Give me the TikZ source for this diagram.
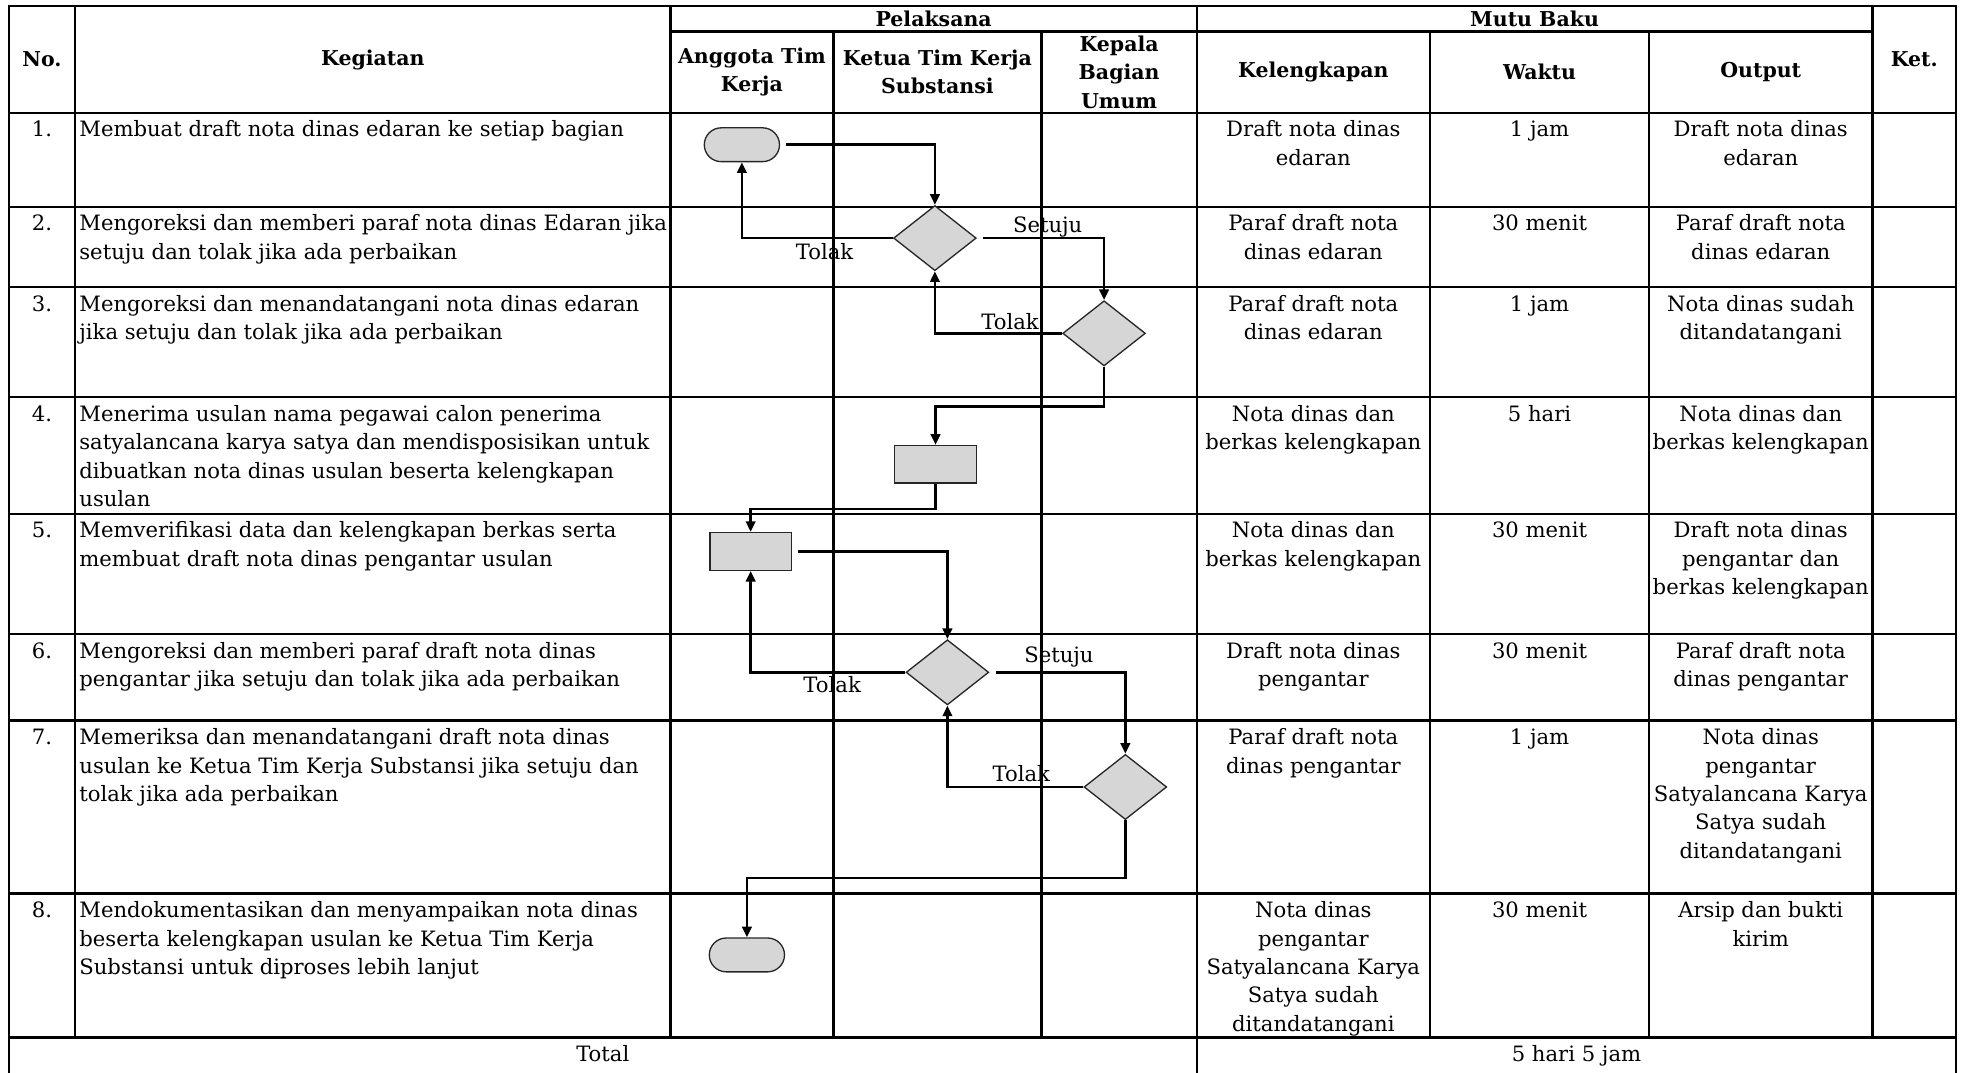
\documentclass[tikz,border=0pt]{standalone}
\usepackage{fontspec}
\setmainfont{DejaVu Serif}
\usepackage{tikz}
\usetikzlibrary{shapes.geometric,shapes.misc,arrows.meta}
\usepackage{xcolor}
\definecolor{abu}{HTML}{D6D6D6}
\newcommand{\isifont}{\fontsize{9.6}{12.9}\selectfont}
\newcommand{\judulfont}{\fontsize{9.3}{12.9}\selectfont\bfseries}

\begin{document}
\begin{tikzpicture}[x=0.2mm,y=-0.2mm,
  garis/.style={line width=1.1pt,line cap=rect},
  isi/.style={font=\isifont,inner sep=0pt,anchor=north,align=center},
  kiri/.style={isi,anchor=north west,align=left},
  judul/.style={font=\judulfont,inner sep=0pt,align=center},
  terminal/.style={rounded rectangle,draw=black!85,fill=abu,line width=0.6pt,minimum width=12mm,minimum height=5.4mm,inner sep=0pt},
  proses/.style={rectangle,draw=black!85,fill=abu,line width=0.6pt,minimum width=13mm,minimum height=6mm,inner sep=0pt},
  keputusan/.style={diamond,draw=black!85,fill=abu,line width=0.6pt,minimum width=13.2mm,minimum height=10.4mm,inner sep=0pt},
  alur/.style={-{Triangle[length=1.7mm,width=1.5mm]},line width=1.2pt},
  ket/.style={font=\isifont,inner sep=0pt}]
\useasboundingbox (0,0) rectangle (1568,856);
\draw[garis] (7,5) -- (1561,5);
\draw[garis] (535,25) -- (1494,25);
\draw[garis] (7,90) -- (1561,90);
\draw[garis] (7,165) -- (1561,165);
\draw[garis] (7,229) -- (1561,229);
\draw[garis] (7,317) -- (1561,317);
\draw[garis] (7,410) -- (1561,410);
\draw[garis] (7,506) -- (1561,506);
\draw[garis] (7,575) -- (1561,575);
\draw[garis] (7,713) -- (1561,713);
\draw[garis] (7,828) -- (1561,828);
\draw[garis] (7,5) -- (7,862);
\draw[garis] (60,5) -- (60,828);
\draw[garis] (535,5) -- (535,828);
\draw[garis] (665,25) -- (665,828);
\draw[garis] (831,25) -- (831,828);
\draw[garis] (955,5) -- (955,862);
\draw[garis] (1141,25) -- (1141,828);
\draw[garis] (1316,25) -- (1316,828);
\draw[garis] (1494,5) -- (1494,828);
\draw[garis] (1561,5) -- (1561,862);

\node[judul] (hno) at (33.5,47.5) {No.};
\node[judul] (hkeg) at (297.5,47.5) {Kegiatan};
\node[judul] (hpel) at (745,15) {Pelaksana};
\node[judul] (hang) at (600,57.5) {Anggota Tim\\Kerja};
\node[judul] (hket) at (748,57.5) {Ketua Tim Kerja\\Substansi};
\node[judul] (hkep) at (893,57.5) {Kepala\\Bagian\\Umum};
\node[judul] (hmutu) at (1224.5,15) {Mutu Baku};
\node[judul] (hlkp) at (1048,57.5) {Kelengkapan};
\node[judul] (hwkt) at (1228.5,57.5) {Waktu};
\node[judul] (hout) at (1405,57.5) {Output};
\node[judul] (hketr) at (1527.5,47.5) {Ket.};

\node[isi] (no1) at (33.5,93) {\strut 1.};
\node[kiri] (keg1) at (63,93) {\strut Membuat draft nota dinas edaran ke setiap bagian};
\node[isi] (lkp1) at (1048,93) {\strut Draft nota dinas\\edaran};
\node[isi] (wkt1) at (1228.5,93) {\strut 1 jam};
\node[isi] (out1) at (1405,93) {\strut Draft nota dinas\\edaran};

\node[isi] (no2) at (33.5,168) {\strut 2.};
\node[kiri] (keg2) at (63,168) {\strut Mengoreksi dan memberi paraf nota dinas Edaran jika\\setuju dan tolak jika ada perbaikan};
\node[isi] (lkp2) at (1048,168) {\strut Paraf draft nota\\dinas edaran};
\node[isi] (wkt2) at (1228.5,168) {\strut 30 menit};
\node[isi] (out2) at (1405,168) {\strut Paraf draft nota\\dinas edaran};

\node[isi] (no3) at (33.5,232) {\strut 3.};
\node[kiri] (keg3) at (63,232) {\strut Mengoreksi dan menandatangani nota dinas edaran\\jika setuju dan tolak jika ada perbaikan};
\node[isi] (lkp3) at (1048,232) {\strut Paraf draft nota\\dinas edaran};
\node[isi] (wkt3) at (1228.5,232) {\strut 1 jam};
\node[isi] (out3) at (1405,232) {\strut Nota dinas sudah\\ditandatangani};

\node[isi] (no4) at (33.5,320) {\strut 4.};
\node[kiri] (keg4) at (63,320) {\strut Menerima usulan nama pegawai calon penerima\\satyalancana karya satya dan mendisposisikan untuk\\dibuatkan nota dinas usulan beserta kelengkapan\\usulan};
\node[isi] (lkp4) at (1048,320) {\strut Nota dinas dan\\berkas kelengkapan};
\node[isi] (wkt4) at (1228.5,320) {\strut 5 hari};
\node[isi] (out4) at (1405,320) {\strut Nota dinas dan\\berkas kelengkapan};

\node[isi] (no5) at (33.5,413) {\strut 5.};
\node[kiri] (keg5) at (63,413) {\strut Memverifikasi data dan kelengkapan berkas serta\\membuat draft nota dinas pengantar usulan};
\node[isi] (lkp5) at (1048,413) {\strut Nota dinas dan\\berkas kelengkapan};
\node[isi] (wkt5) at (1228.5,413) {\strut 30 menit};
\node[isi] (out5) at (1405,413) {\strut Draft nota dinas\\pengantar dan\\berkas kelengkapan};

\node[isi] (no6) at (33.5,509) {\strut 6.};
\node[kiri] (keg6) at (63,509) {\strut Mengoreksi dan memberi paraf draft nota dinas\\pengantar jika setuju dan tolak jika ada perbaikan};
\node[isi] (lkp6) at (1048,509) {\strut Draft nota dinas\\pengantar};
\node[isi] (wkt6) at (1228.5,509) {\strut 30 menit};
\node[isi] (out6) at (1405,509) {\strut Paraf draft nota\\dinas pengantar};

\node[isi] (no7) at (33.5,578) {\strut 7.};
\node[kiri] (keg7) at (63,578) {\strut Memeriksa dan menandatangani draft nota dinas\\usulan ke Ketua Tim Kerja Substansi jika setuju dan\\tolak jika ada perbaikan};
\node[isi] (lkp7) at (1048,578) {\strut Paraf draft nota\\dinas pengantar};
\node[isi] (wkt7) at (1228.5,578) {\strut 1 jam};
\node[isi] (out7) at (1405,578) {\strut Nota dinas\\pengantar\\Satyalancana Karya\\Satya sudah\\ditandatangani};

\node[isi] (no8) at (33.5,716) {\strut 8.};
\node[kiri] (keg8) at (63,716) {\strut Mendokumentasikan dan menyampaikan nota dinas\\beserta kelengkapan usulan ke Ketua Tim Kerja\\Substansi untuk diproses lebih lanjut};
\node[isi] (lkp8) at (1048,716) {\strut Nota dinas\\pengantar\\Satyalancana Karya\\Satya sudah\\ditandatangani};
\node[isi] (wkt8) at (1228.5,716) {\strut 30 menit};
\node[isi] (out8) at (1405,716) {\strut Arsip dan bukti\\kirim};

\node[isi] (total) at (481,831) {\strut Total};
\node[isi] (jumlah) at (1258,831) {\strut 5 hari 5 jam};

\node[terminal] (mulai) at (592,115.5) {};
\node[keputusan] (cek1) at (746,190) {};
\node[keputusan] (cek2) at (881,266) {};
\node[proses] (terima) at (746.5,370.5) {};
\node[proses] (verif) at (599,440) {};
\node[keputusan] (cek3) at (756,536.5) {};
\node[keputusan] (cek4) at (898,628) {};
\node[terminal] (selesai) at (596,762) {};

\draw[alur,shorten <=1mm] (mulai.east) -| (cek1.north);
\draw[alur] (cek1.west) -| (mulai.south);
\draw[alur,shorten <=1mm] (cek1.east) -| (cek2.north);
\draw[alur] (cek2.west) -| (cek1.south);
\draw[alur] (cek2.south) -- ++(0,32) -| (terima.north);
\draw[alur] (terima.south) -- ++(0,20) -| (verif.north);
\draw[alur,shorten <=1mm] (verif.east) -| (cek3.north);
\draw[alur] (cek3.west) -| (verif.south);
\draw[alur,shorten <=1mm] (cek3.east) -| (cek4.north);
\draw[alur] (cek4.west) -| (cek3.south);
\draw[alur] (cek4.south) -- ++(0,46) -| (selesai.north);

\node[ket] (tolak1) at (658,201) {Tolak};
\node[ket] (setuju1) at (836,181) {Setuju};
\node[ket] (tolak2) at (806,257) {Tolak};
\node[ket] (tolak3) at (664,546) {Tolak};
\node[ket] (setuju2) at (845,524) {Setuju};
\node[ket] (tolak4) at (815,617) {Tolak};
\end{tikzpicture}
\end{document}
